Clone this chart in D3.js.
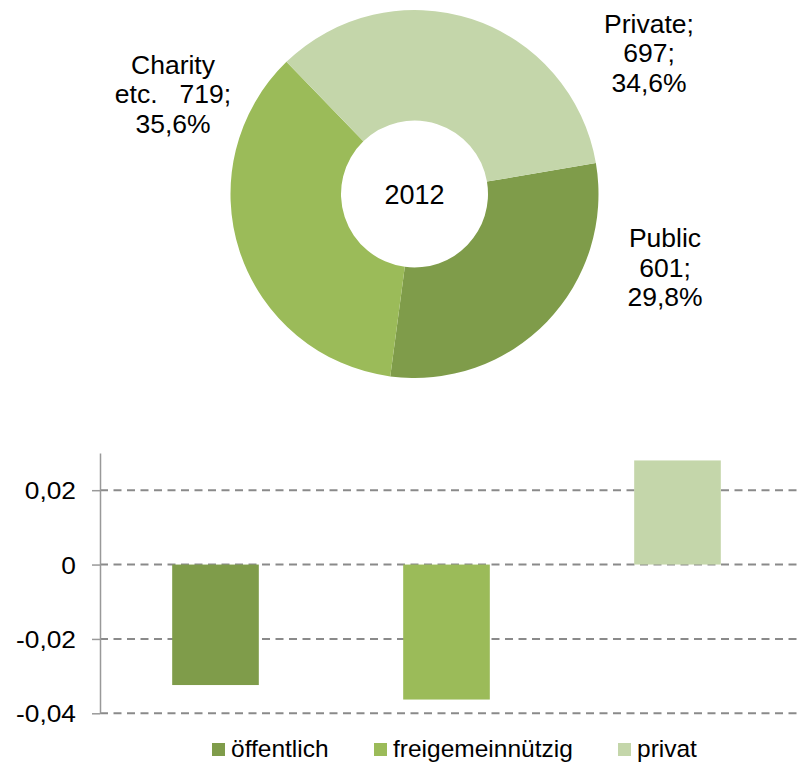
<!DOCTYPE html>
<html>
<head>
<meta charset="utf-8">
<script src="https://cdn.jsdelivr.net/npm/d3@7"></script>
<style>
  html, body { margin: 0; padding: 0; background: #fff; }
  svg { display: block; font-family: "Liberation Sans", Arial, sans-serif; }
</style>
</head>
<body>
<svg id="chart" width="797" height="763"></svg>
<script>
// ---- Data ----
const donutCategories = ["Public", "Charity etc.", "Private"];
const donutValues = [601, 719, 697];
const donutLabels = [
  ["Public", "601;", "29,8%"],
  ["Charity", "etc.\u00a0\u00a0\u00a0719;", "35,6%"],
  ["Private;", "697;", "34,6%"]
];
const donutYear = "2012";

const barCategories = ["öffentlich", "freigemeinnützig", "privat"];
const barValues = [-0.0324, -0.0363, 0.028];
const yTickValues = [-0.04, -0.02, 0, 0.02];

const colors = ["#7f9c4a", "#9bbb59", "#c4d6aa"];

const svg = d3.select("#chart");

// ---- Donut ----
const cx = 414.5, cy = 194, rOuter = 184, rInner = 73.5;
const startA = 80.3 * Math.PI / 180;
const pie = d3.pie().sort(null).startAngle(startA).endAngle(startA + 2 * Math.PI);
const arc = d3.arc().innerRadius(rInner).outerRadius(rOuter);
const g = svg.append("g").attr("transform", `translate(${cx},${cy})`);
g.selectAll("path").data(pie(donutValues)).join("path")
  .attr("d", arc).attr("fill", (d, i) => colors[i]);

g.append("text").attr("x", 0).attr("y", 9.5).attr("text-anchor", "middle")
  .attr("font-size", 27).attr("fill", "#000").text(donutYear);

const labelPos = [ [665, 247], [173, 73.5], [649, 32.5] ];
donutLabels.forEach((lines, i) => {
  const t = svg.append("text").attr("text-anchor", "middle").attr("font-size", 26.5).attr("fill", "#000");
  lines.forEach((ln, j) => {
    t.append("tspan").attr("x", labelPos[i][0]).attr("y", labelPos[i][1] + j * 29.5).text(ln);
  });
});

// ---- Bar chart ----
const plotLeft = 100, plotRight = 793;
const y = d3.scaleLinear().domain([-0.04, 0.03]).range([713.3, 453]);
const x = d3.scaleBand().domain(barCategories).range([plotLeft, plotRight])
  .paddingInner(0.625).paddingOuter(0.3125);

// gridlines
svg.append("g").selectAll("line").data(yTickValues).join("line")
  .attr("x1", plotLeft).attr("x2", 797)
  .attr("y1", d => y(d)).attr("y2", d => y(d))
  .attr("stroke", "#8a8a8a").attr("stroke-width", 2).attr("stroke-dasharray", "8,5.5");

// bars
svg.append("g").selectAll("rect").data(barValues).join("rect")
  .attr("x", (d, i) => x(barCategories[i]))
  .attr("width", x.bandwidth())
  .attr("y", d => y(Math.max(0, d)))
  .attr("height", d => Math.abs(y(d) - y(0)))
  .attr("fill", (d, i) => colors[i]);

// axis
const fmt = d => d === 0 ? "0" : (d < 0 ? "-" : "") + Math.abs(d).toFixed(2).replace(".", ",");
const axis = d3.axisLeft(y).tickValues(yTickValues).tickFormat(fmt).tickSize(8).tickSizeOuter(0);
const ag = svg.append("g").attr("transform", `translate(${plotLeft},0)`).call(axis);
ag.select(".domain").attr("stroke", "#999").attr("stroke-width", 1.5);
ag.selectAll(".tick line").attr("stroke", "#999").attr("stroke-width", 1.5);
ag.selectAll(".tick text")
  .attr("font-family", "Liberation Sans, Arial, sans-serif")
  .attr("font-size", 23.5).attr("fill", "#000")
  .attr("x", null).attr("dy", null)
  .attr("transform", "translate(-24,8.5) scale(1.12,1)");

// legend
const legendX = [212, 374, 618];
const lg = svg.append("g");
barCategories.forEach((c, i) => {
  lg.append("rect").attr("x", legendX[i]).attr("y", 743).attr("width", 13).attr("height", 13).attr("fill", colors[i]);
  lg.append("text").attr("x", legendX[i] + 19).attr("y", 757).attr("font-size", 24.5).attr("fill", "#000").text(c);
});
</script>
</body>
</html>
